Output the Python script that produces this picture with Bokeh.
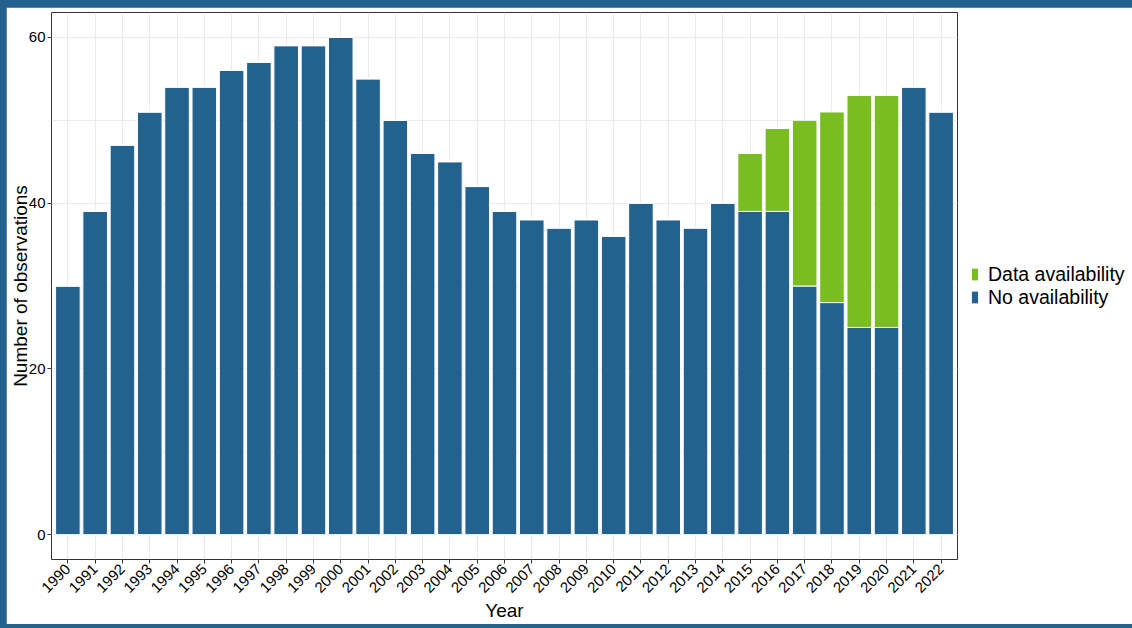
from bokeh.plotting import figure
from bokeh.models import FactorRange, Range1d, Legend, LegendItem, SingleIntervalTicker, ColumnDataSource
from bokeh.embed import file_html
from bokeh.resources import INLINE
import math

years = [str(y) for y in range(1990, 2023)]
no_availability = [30, 39, 47, 51, 54, 54, 56, 57, 59, 59, 60, 55, 50, 46, 45, 42, 39, 38, 37, 38,
                   36, 40, 38, 37, 40, 39, 39, 30, 28, 25, 25, 54, 51]
data_availability = [0, 0, 0, 0, 0, 0, 0, 0, 0, 0, 0, 0, 0, 0, 0, 0, 0, 0, 0, 0,
                     0, 0, 0, 0, 0, 7, 10, 20, 23, 28, 28, 0, 0]
y_ticks = [0, 20, 40, 60]

BLUE = "#23618F"
GREEN = "#7ABD22"
FONT = "Liberation Sans"

source = ColumnDataSource(dict(year=years, no=no_availability, data=data_availability))

p = figure(
    x_range=FactorRange(*years, range_padding=0.1, range_padding_units="absolute"),
    y_range=Range1d(-3, 63),
    frame_width=906, frame_height=547,
    output_backend="svg", toolbar_location=None,
    min_border_left=0, min_border_top=5, min_border_bottom=0, min_border_right=0,
    background_fill_color="white", border_fill_color="white",
)

renderers = p.vbar_stack(["no", "data"], x="year", width=0.9, source=source,
                         color=[BLUE, GREEN], line_color="white", line_width=1)

p.outline_line_color = "#333333"
p.outline_line_width = 1

# grids
p.xgrid.grid_line_color = "#EBEBEB"
p.ygrid.grid_line_color = "#EBEBEB"
p.ygrid.minor_grid_line_color = "#EBEBEB"
p.yaxis.ticker = SingleIntervalTicker(interval=20, num_minor_ticks=2)

for ax in (p.xaxis[0], p.yaxis[0]):
    ax.axis_line_color = None
    ax.major_tick_line_color = "#333333"
    ax.major_tick_in = 0
    ax.major_tick_out = 4
    ax.minor_tick_line_color = None
    ax.major_label_text_font = FONT
    ax.major_label_text_font_size = "15px"
    ax.major_label_text_color = "#000000"
    ax.axis_label_text_font = FONT
    ax.axis_label_text_font_size = "19px"
    ax.axis_label_text_font_style = "normal"
    ax.axis_label_text_color = "#000000"

p.xaxis.major_label_orientation = math.pi / 4
p.xaxis.major_label_standoff = 3
p.yaxis.major_label_standoff = 2
p.xaxis.axis_label = "Year"
p.yaxis.axis_label = "Number of observations"
p.xaxis.axis_label_standoff = 0
p.yaxis.axis_label_standoff = -5

legend = Legend(items=[LegendItem(label="Data availability", renderers=[renderers[1]]),
                       LegendItem(label="No availability", renderers=[renderers[0]])],
                location="center_left", orientation="vertical")
legend.margin = 13
legend.padding = 0
legend.border_line_color = None
legend.background_fill_color = None
legend.glyph_width = 9
legend.glyph_height = 16
legend.label_standoff = 9
legend.spacing = -4
legend.label_text_font = FONT
legend.label_text_font_size = "19.5px"
legend.label_text_color = "#000000"
legend.label_height = 16
p.add_layout(legend, "right")

html = file_html(p, INLINE)
html = html.replace("</head>", "<style>html,body{background:#23618F;overflow:hidden;} body{margin:7px 0 0 6px;}</style></head>", 1)
open("out.html", "w").write(html)
